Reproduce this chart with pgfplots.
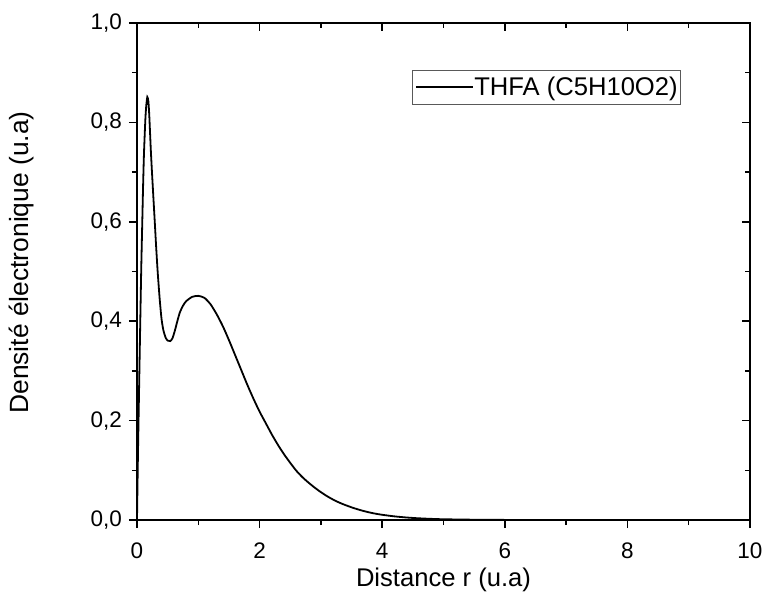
\documentclass[border=0pt]{standalone}
\usepackage{pgfplots}
\pgfplotsset{compat=1.18}
\usepackage{fontspec}
\setmainfont{Liberation Sans}

\begin{document}
\begin{tikzpicture}
\pgfplotsset{
  common/.style={
    scale only axis, width=306.5pt, height=248.5pt,
    xmin=0, xmax=10, ymin=0, ymax=1,
    axis line style={line width=0.75pt},
    xtick={0,2,4,6,8,10}, ytick={0,0.2,0.4,0.6,0.8,1},
    minor x tick num=1, minor y tick num=1,
    major tick length=4pt, minor tick length=2.5pt,
    every tick/.style={black, line width=0.75pt},
  }
}
\begin{axis}[common,
  tick align=outside, xtick pos=bottom, ytick pos=left,
  ticklabel style={font=\fontsize{11.25pt}{13pt}\selectfont},
  x tick label style={yshift=-4pt},
  /pgf/number format/assume math mode=true,
  y tick label style={/pgf/number format/.cd, use comma, fixed, fixed zerofill, precision=1, /tikz/.cd},
  xlabel={Distance r (u.a)}, ylabel={Densité électronique (u.a)},
  xlabel style={font=\fontsize{12.8pt}{15pt}\selectfont, at={(axis description cs:0.5,-0.1207)}, anchor=center},
  ylabel style={font=\fontsize{13.2pt}{15pt}\selectfont, at={(axis description cs:-0.1876,0.518)}, anchor=center},
  legend style={at={(axis description cs:0.4486,0.9054)}, anchor=north west,
    draw=gray!70!black, line width=0.5pt, inner xsep=1.5pt, inner ysep=3pt,
    nodes={inner sep=0pt}, column sep=0pt,
    font=\fontsize{12.8pt}{15pt}\selectfont, cells={anchor=west}},
  legend image code/.code={\draw[#1] (0pt,0pt) -- (28.5pt,0pt);},
]
\addplot[black, line width=0.9pt, smooth, tension=0.4] table {
x y
0 0
0.016 0.134
0.035 0.27
0.054 0.403
0.07 0.51
0.087 0.604
0.10 0.675
0.114 0.738
0.136 0.805
0.15 0.832
0.168 0.851
0.185 0.843
0.20 0.815
0.228 0.738
0.26 0.665
0.288 0.604
0.31 0.555
0.337 0.50
0.37 0.445
0.40 0.405
0.43 0.382
0.467 0.367
0.50 0.361
0.543 0.360
0.58 0.366
0.62 0.382
0.658 0.400
0.70 0.418
0.75 0.431
0.80 0.440
0.90 0.449
1.00 0.451
1.10 0.447
1.20 0.434
1.30 0.414
1.40 0.390
1.50 0.362
1.60 0.332
1.70 0.302
1.80 0.272
1.90 0.244
2.00 0.218
2.10 0.195
2.20 0.172
2.30 0.151
2.40 0.132
2.50 0.115
2.60 0.099
2.70 0.086
2.80 0.075
2.90 0.065
3.00 0.056
3.10 0.048
3.20 0.041
3.30 0.035
3.40 0.030
3.50 0.0255
3.60 0.0215
3.70 0.018
3.80 0.015
3.90 0.0125
4.00 0.0105
4.20 0.0073
4.40 0.0050
4.60 0.0034
4.80 0.0023
5.00 0.0015
5.50 0.0006
6.00 0.0002
7.00 0.00003
8.00 0
10.0 0
};
\addlegendentry{THFA (C5H10O2)}
\end{axis}
\begin{axis}[common,
  tick align=inside, axis x line*=top, axis y line*=right,
  xticklabels={}, yticklabels={},
]
\end{axis}
\pgfresetboundingbox
\useasboundingbox (-68.5pt,-38pt) rectangle (312.5pt,260pt);
\end{tikzpicture}
\end{document}
